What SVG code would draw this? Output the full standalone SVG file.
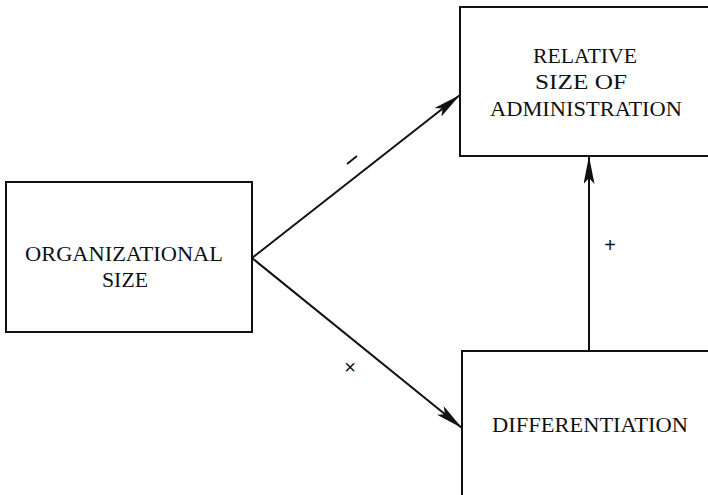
<svg xmlns="http://www.w3.org/2000/svg" width="708" height="495" viewBox="0 0 708 495">
<style>
.box{fill:#fff;stroke:#111;stroke-width:2}
.t{font-family:"Liberation Serif","Times New Roman",serif;font-size:21px;fill:#111;text-anchor:middle}
.c{stroke:#111;stroke-width:2;fill:none}
.lbl{font-family:"Liberation Sans",Arial,sans-serif;font-size:20px;fill:#111;text-anchor:middle}
</style>
<defs>
<marker id="ah" viewBox="0 0 28 11" refX="28" refY="5.5" markerWidth="28" markerHeight="11" markerUnits="userSpaceOnUse" orient="auto">
<path d="M0,0 L28,5.5 L0,11 L6,5.5 Z" fill="#111"/>
</marker>
</defs>
<rect width="708" height="495" fill="#fff"/>
<g id="org">
<rect class="box" x="6" y="182" width="246" height="150"/>
<text class="t" x="124" y="261" textLength="198" lengthAdjust="spacingAndGlyphs">ORGANIZATIONAL</text>
<text class="t" x="125" y="287" textLength="46" lengthAdjust="spacingAndGlyphs">SIZE</text>
</g>
<g id="admin">
<rect class="box" x="460" y="7" width="260" height="149"/>
<text class="t" x="585" y="63" textLength="104" lengthAdjust="spacingAndGlyphs">RELATIVE</text>
<text class="t" x="581" y="89" textLength="92" lengthAdjust="spacingAndGlyphs">SIZE OF</text>
<text class="t" x="586" y="116" textLength="192" lengthAdjust="spacingAndGlyphs">ADMINISTRATION</text>
</g>
<g id="diff">
<rect class="box" x="462" y="351" width="260" height="160"/>
<text class="t" x="590" y="432" textLength="196" lengthAdjust="spacingAndGlyphs">DIFFERENTIATION</text>
</g>
<g id="connectors">
<line class="c" x1="252" y1="258" x2="460" y2="95" marker-end="url(#ah)"/>
<line class="c" x1="252" y1="258" x2="462" y2="428" marker-end="url(#ah)"/>
<line class="c" x1="589" y1="351" x2="589" y2="156" marker-end="url(#ah)"/>
<line x1="347" y1="164" x2="357" y2="156" stroke="#111" stroke-width="1.8"/>
<text class="lbl" x="350" y="374" font-size="22">×</text>
<text class="lbl" x="610" y="252">+</text>
</g>
</svg>
